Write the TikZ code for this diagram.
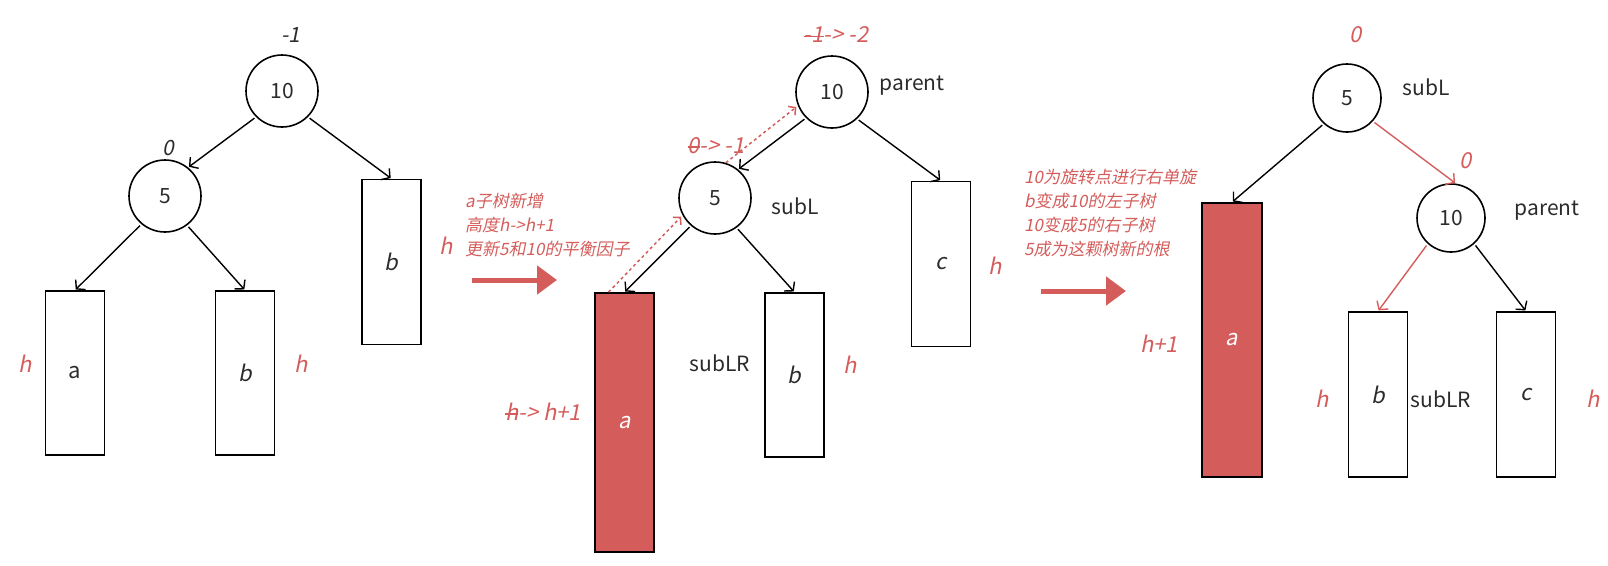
\documentclass[tikz,border=0pt]{standalone}
\usepackage{fontspec}
\setmainfont{Noto Sans CJK SC}
\newfontfamily\itf[FakeSlant=0.2]{Noto Sans CJK SC}
\usetikzlibrary{arrows.meta}
\definecolor{myred}{HTML}{D45D5B}
\definecolor{ink}{HTML}{2B2B2B}
\newcommand\stk[1]{\setbox0\hbox{#1}\rlap{\rule[0.28em]{\wd0}{1.2pt}}\box0}
\tikzset{
  circ/.style={circle,draw=black,line width=1.6pt,minimum size=72pt,inner sep=0pt,text=ink,font=\fontsize{21}{25}\selectfont},
  circs/.style={circ,minimum size=68pt},
  boxn/.style={draw=black,line width=1.6pt,minimum width=59pt,minimum height=164pt,inner sep=0pt,text=ink,font=\itf\fontsize{22}{26}\selectfont},
  redbox/.style={boxn,fill=myred,text=white},
  lbl/.style={text=ink,font=\fontsize{21}{25}\selectfont,inner sep=0pt},
  rl/.style={text=myred,font=\itf\fontsize{22}{26}\selectfont,inner sep=0pt},
  note/.style={text=myred,font=\itf\fontsize{17}{24}\selectfont,align=left,anchor=west,inner sep=0pt},
  edge/.style={-{Straight Barb[length=6pt,width=14pt]},line width=1.4pt,draw=black,shorten <=2pt,shorten >=1pt},
  redge/.style={edge,draw=myred},
  dotarr/.style={-{Straight Barb[length=5pt,width=11pt]},dash pattern=on 3pt off 3pt,line width=1.5pt,draw=myred,shorten >=2pt},
  bigarr/.style={-{Triangle[length=20pt,width=28pt]},line width=5pt,draw=myred}
}
\begin{document}
\begin{tikzpicture}[x=1pt,y=-1pt]
\useasboundingbox (0,0) rectangle (1608,565);
% ---------- tree 1 ----------
\node[circ] (t1p) at (282,91) {10};
\node[circ] (t1s) at (165,196) {5};
\node[boxn] (t1a) at (75,373) {\normalfont a};
\node[boxn] (t1b) at (245,373) {b};
\node[boxn,minimum height=165pt] (t1c) at (391.5,262) {b};
\draw[edge] (t1p.225) -- (t1s.51);
\draw[edge] (t1p.315) -- (t1c.north);
\draw[edge] (t1s.230) -- (t1a.north);
\draw[edge] (t1s.307) -- (t1b.north);
\node[lbl,font=\itf\fontsize{21}{25}\selectfont] (t1bf1) at (291,35) {-1};
\node[lbl,font=\itf\fontsize{21}{25}\selectfont] (t1bf2) at (168,148) {0};
\node[rl] (t1h1) at (25,364) {h};
\node[rl] (t1h2) at (301,364) {h};
\node[rl] (t1h3) at (446,246) {h};
\node[note] (n1) at (465,225) {a子树新增\\高度h->h+1\\更新5和10的平衡因子};
\coordinate (a1s) at (472,280);
\coordinate (a1e) at (557,280);
\draw[bigarr] (a1s) -- (a1e);
% ---------- tree 2 ----------
\node[circ] (t2p) at (832,92) {10};
\node[circ] (t2s) at (715,198) {5};
\node[redbox,minimum height=259pt] (t2a) at (624.5,422.5) {a};
\node[boxn] (t2b) at (794.5,375) {b};
\node[boxn,minimum height=165pt] (t2c) at (941,264) {c};
\draw[edge] (t2p.225) -- (t2s.51);
\draw[edge] (t2p.313) -- (t2c.north);
\draw[edge] (t2s.229) -- (t2a.north);
\draw[edge] (t2s.306) -- (t2b.north);
\draw[dotarr] ([xshift=-16pt]t2a.north) -- (t2s.208);
\draw[dotarr] (t2s.73) -- (t2p.202);
\node[rl] (t2bf1) at (836,35) {\stk{-1}-> -2};
\node[lbl] (t2par) at (912,86) {parent};
\node[rl] (t2bf2) at (716,146) {\stk{0}-> -1};
\node[lbl] (t2subl) at (795,206) {subL};
\node[lbl] (t2sublr) at (720,363) {subLR};
\node[rl] (t2h1) at (850,365) {h};
\node[rl] (t2h2) at (543,412) {\stk{h}-> h+1};
\node[rl] (t2h3) at (995,266) {h};
\node[note] (n2) at (1024,213) {10为旋转点进行右单旋\\b变成10的左子树\\10变成5的右子树\\5成为这颗树新的根};
\coordinate (a2s) at (1041,291);
\coordinate (a2e) at (1126,291);
\draw[bigarr] (a2s) -- (a2e);
% ---------- tree 3 ----------
\node[circs] (t3s) at (1347,98) {5};
\node[circs] (t3p) at (1451,218) {10};
\node[redbox,minimum width=60pt,minimum height=274pt] (t3a) at (1232,340) {a};
\node[boxn,minimum height=165pt] (t3b) at (1378,394.5) {b};
\node[boxn,minimum height=165pt] (t3c) at (1526,394.5) {c};
\draw[edge] (t3s.228) -- (t3a.north);
\draw[redge] (t3s.318) -- (t3p.82);
\draw[redge] (t3p.228) -- (t3b.north);
\draw[edge] (t3p.312) -- (t3c.north);
\node[rl] (t3bf1) at (1356,35) {0};
\node[lbl] (t3subl) at (1426,87) {subL};
\node[rl] (t3bf2) at (1466,161) {0};
\node[lbl] (t3par) at (1547,211) {parent};
\node[rl] (t3h1) at (1159,344) {h+1};
\node[rl] (t3h2) at (1322,399) {h};
\node[lbl] (t3sublr) at (1441,399) {subLR};
\node[rl] (t3h3) at (1593,399) {h};
\end{tikzpicture}
\end{document}
